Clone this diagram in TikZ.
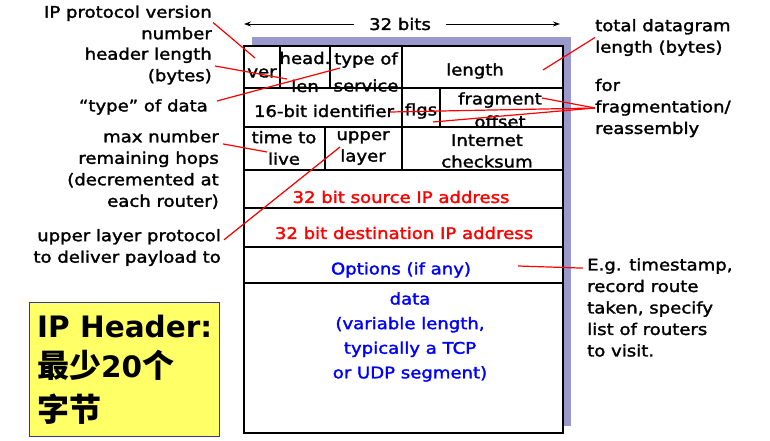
\documentclass[tikz,border=0pt]{standalone}
\usepackage{fontspec}
\setmainfont{DejaVu Sans}[FakeStretch=1.13,FakeBold=1.8]
\newfontfamily\hdrfont{DejaVu Sans}
\newfontfamily\cjk{Noto Sans CJK SC}
\usetikzlibrary{arrows.meta}
\definecolor{shadowblue}{HTML}{9999CC}
\definecolor{hdryellow}{HTML}{FFFF66}
\definecolor{hdrnavy}{HTML}{333399}

\begin{document}
\begin{tikzpicture}[x=1pt,y=-1pt,
  lbl/.style={inner sep=0pt,font=\fontsize{16}{21.5}\selectfont},
  lblr/.style={lbl,align=right,anchor=east},
  lbll/.style={lbl,align=left,anchor=west},
  fld/.style={lbl,align=center},
  hdrtxt/.style={inner sep=0pt,anchor=base west,font=\fontsize{29.5}{30}\selectfont\bfseries},
  callout/.style={red,line width=1.2pt},
  row/.style={line width=1.6pt}]
\useasboundingbox (0,0) rectangle (770,441);

% datagram box
\fill[shadowblue] (252,37) rectangle (571,426);
\draw[row,fill=white] (244,46) rectangle (563,433);
\foreach \y in {88,127,170,208,247,283}
  \draw[row] (244,\y) -- (563,\y);
\draw[row] (280,46) -- (280,88);
\draw[row] (330,46) -- (330,88);
\draw[row] (402,46) -- (402,170);
\draw[row] (440,88) -- (440,127);
\draw[row] (325,127) -- (325,170);

\node[fld,inner xsep=15pt] (bits) at (400,24) {32 bits};
\coordinate (bitsl) at (244,24);
\coordinate (bitsr) at (560,24);
\draw[-{Stealth[length=7pt,width=5pt]},line width=0.9pt] (bits.west) -- (bitsl);
\draw[-{Stealth[length=7pt,width=5pt]},line width=0.9pt] (bits.east) -- (bitsr);

\node[fld] (ver) at (262,73) {ver};
\node[fld,font=\fontsize{16}{28}\selectfont] (hlen) at (305,72) {head.\\len};
\node[fld,font=\fontsize{16}{27}\selectfont] (tos) at (366,72) {type of\\service};
\node[fld] (len) at (475,71) {length};
\node[fld] (ident) at (324,111) {16-bit identifier};
\node[fld] (flgs) at (421,111) {flgs};
\node[fld,font=\fontsize{16}{23}\selectfont] (frag) at (500,110) {fragment\\offset};
\node[fld] (ttl) at (284,148) {time to\\live};
\node[fld] (proto) at (363,148) {upper\\layer};
\node[fld] (csum) at (487,151) {Internet\\checksum};
\node[fld,red] (src) at (401,197) {32 bit source IP address};
\node[fld,red] (dst) at (404,233) {32 bit destination IP address};
\node[fld,blue] (opt) at (401,270) {Options (if any)};
\node[fld,blue,font=\fontsize{16}{24.6}\selectfont] (data) at (410,337)
  {data\\(variable length,\\typically a TCP\\or UDP segment)};

% labels
\node[lblr] (lver) at (212,22.5) {IP protocol version\\number};
\node[lblr] (lhlen) at (212,66) {header length\\(bytes)};
\node[lblr] (ltos) at (208,107) {“type” of data};
\node[lblr] (lttl) at (219,169.5) {max number\\remaining hops\\(decremented at\hspace{0.35em}\\each router)};
\node[lblr] (lproto) at (221,247.5) {upper layer protocol\\to deliver payload to};
\node[lbll] (llen) at (595,37.5) {total datagram\\length (bytes)};
\node[lbll] (lfrag) at (595,108) {for\\fragmentation/\\reassembly};
\node[lbll] (lopt) at (587,307.5) {E.g. timestamp,\\record route\\taken, specify\\list of routers\\to visit.};

\coordinate (pver) at (255,58);
\coordinate (phlen) at (287,79);
\coordinate (ptos) at (340,68);
\coordinate (pttl) at (267,152);
\coordinate (pproto) at (340,147);
\coordinate (plen) at (543,70);
\coordinate (pfraga) at (542,98);
\coordinate (pfragb) at (433,122);
\coordinate (pfragc) at (390,112);
\coordinate (popt) at (518,266);

\draw[callout] ([xshift=1pt]lver.east) -- (pver);
\draw[callout] ([xshift=3pt]lhlen.east) -- (phlen);
\draw[callout] ([xshift=9pt,yshift=6pt]ltos.east) -- (ptos);
\draw[callout] ([xshift=4pt,yshift=-14pt]lttl.north east) -- (pttl);
\draw[callout] ([xshift=3pt,yshift=-11pt]lproto.north east) -- (pproto);
\draw[callout] (llen.west) -- (plen);
\foreach \p in {pfraga,pfragb,pfragc}
  \draw[callout] (lfrag.west) -- (\p);
\draw[callout] (popt) -- ([xshift=-4pt,yshift=-10pt]lopt.north west);

% yellow box
\draw[fill=hdryellow,draw=hdrnavy,line width=0.8pt] (29,302) rectangle (219,436);
\node[hdrtxt] (hdra) at (37,337) {\hdrfont IP Header:};
\node[hdrtxt] (hdrb) at (37,377) {\cjk\fontsize{32}{32}\selectfont 最少\hdrfont\fontsize{29.5}{30}\selectfont 20\cjk\fontsize{32}{32}\selectfont 个};
\node[hdrtxt] (hdrc) at (37,421) {\cjk\fontsize{32}{32}\selectfont 字节};
\end{tikzpicture}
\end{document}
